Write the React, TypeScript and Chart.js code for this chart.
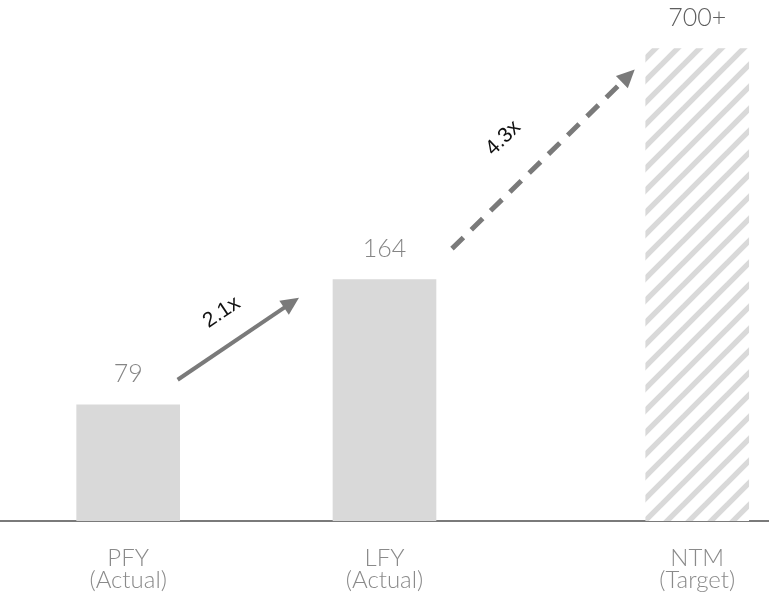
import { useEffect, useRef } from "react";
import { Chart, registerables } from "chart.js";

Chart.register(...registerables);

// ---- data ----
const categories = ["PFY", "LFY", "NTM"];
const subLabels = ["(Actual)", "(Actual)", "(Target)"];
const xPositions = [0, 1, 2.22];
// drawn bar heights (NTM bar is shown truncated, not to scale)
const barHeights = [79, 164, 321];
const valueLabels = ["79", "164", "700+"];
const growthLabels = ["2.1x", "4.3x"];

const LABEL_FONT = '"Lato", "Open Sans", sans-serif';

function makePattern(): CanvasPattern | string {
  const size = 22;
  const c = document.createElement("canvas");
  c.width = size;
  c.height = size;
  const g = c.getContext("2d");
  if (!g) return "#d9d9d9";
  g.fillStyle = "#ffffff";
  g.fillRect(0, 0, size, size);
  g.strokeStyle = "#d9d9d9";
  g.lineWidth = 5.4;
  g.lineCap = "square";
  const seg = (x1: number, y1: number, x2: number, y2: number) => {
    g.beginPath();
    g.moveTo(x1, y1);
    g.lineTo(x2, y2);
    g.stroke();
  };
  seg(-size, 2 * size, 2 * size, -size);
  seg(-size, size, size, -size);
  seg(0, 2 * size, 2 * size, 0);
  const p = g.createPattern(c, "repeat");
  return p || "#d9d9d9";
}

function drawArrow(
  ctx: CanvasRenderingContext2D,
  x1: number,
  y1: number,
  x2: number,
  y2: number,
  width: number,
  dash: number[],
  color: string
) {
  const dx = x2 - x1;
  const dy = y2 - y1;
  const len = Math.hypot(dx, dy);
  const ux = dx / len;
  const uy = dy / len;
  const headLen = 18;
  const headHalf = 8.5;
  const bx = x2 - ux * headLen;
  const by = y2 - uy * headLen;
  ctx.save();
  ctx.strokeStyle = color;
  ctx.fillStyle = color;
  ctx.lineWidth = width;
  ctx.lineCap = "butt";
  ctx.setLineDash(dash);
  ctx.beginPath();
  ctx.moveTo(x1, y1);
  ctx.lineTo(bx + ux * 2, by + uy * 2);
  ctx.stroke();
  ctx.setLineDash([]);
  ctx.beginPath();
  ctx.moveTo(x2, y2);
  ctx.lineTo(bx - uy * headHalf, by + ux * headHalf);
  ctx.lineTo(bx + uy * headHalf, by - ux * headHalf);
  ctx.closePath();
  ctx.fill();
  ctx.restore();
}

const annotationPlugin = {
  id: "annotations",
  afterDatasetsDraw(chart: any) {
    const ctx: CanvasRenderingContext2D = chart.ctx;
    const bars = chart.getDatasetMeta(0).data as any[];
    if (!bars || bars.length < 3) return;
    ctx.save();
    // value labels above bars
    ctx.font = `300 25px ${LABEL_FONT}`;
    ctx.textAlign = "center";
    ctx.textBaseline = "middle";
    bars.forEach((b, i) => {
      ctx.fillStyle = i === 2 ? "#5e5e5e" : "#858585";
      ctx.fillText(valueLabels[i], b.x, b.y - 31);
    });

    const geo = bars.map((b) => ({
      left: b.x - b.width / 2,
      right: b.x + b.width / 2,
      top: b.y,
    }));
    const arrows = [
      {
        x1: geo[0].right - 2,
        y1: geo[0].top - 25,
        x2: geo[1].left - 34,
        y2: geo[1].top + 18,
        w: 4,
        dash: [] as number[],
        label: growthLabels[0],
        off: 31,
        along: 1,
      },
      {
        x1: geo[1].right + 16,
        y1: geo[1].top - 31,
        x2: geo[2].left - 11,
        y2: geo[2].top + 21,
        w: 5,
        dash: [16, 11],
        label: growthLabels[1],
        off: 43,
        along: -14,
      },
    ];
    arrows.forEach((a) => {
      drawArrow(ctx, a.x1, a.y1, a.x2, a.y2, a.w, a.dash, "#7a7a7a");
      const dx = a.x2 - a.x1;
      const dy = a.y2 - a.y1;
      const len = Math.hypot(dx, dy);
      const ux = dx / len;
      const uy = dy / len;
      const nx = uy;
      const ny = -ux;
      const mx = (a.x1 + a.x2) / 2 + nx * a.off + ux * a.along;
      const my = (a.y1 + a.y2) / 2 + ny * a.off + uy * a.along;
      ctx.save();
      ctx.translate(mx, my);
      ctx.rotate(Math.atan2(dy, dx));
      ctx.font = '21px "Liberation Sans", Arial, sans-serif';
      ctx.fillStyle = "#111111";
      ctx.textAlign = "center";
      ctx.textBaseline = "middle";
      ctx.fillText(a.label, 0, 0);
      ctx.restore();
    });
    ctx.restore();
  },
};

export default function App() {
  const canvasRef = useRef<HTMLCanvasElement | null>(null);

  useEffect(() => {
    const canvas = canvasRef.current;
    if (!canvas) return;
    const pattern = makePattern();
    const chart = new Chart(canvas, {
      type: "bar",
      data: {
        datasets: [
          {
            data: xPositions.map((x, i) => ({ x, y: barHeights[i] })),
            backgroundColor: ["#d9d9d9", "#d9d9d9", pattern as any],
            borderWidth: 0,
            barThickness: 103,
          },
        ],
      },
      options: {
        animation: false,
        responsive: false,
        layout: { padding: 0 },
        plugins: {
          legend: { display: false },
          tooltip: { enabled: false },
        },
        scales: {
          x: {
            type: "linear",
            min: -0.5,
            max: 2.5,
            offset: false,
            grid: { display: false, drawTicks: false },
            border: { display: true, color: "#7a7a7a", width: 2 },
            afterBuildTicks: (axis: any) => {
              axis.ticks = xPositions.map((v) => ({ value: v }));
            },
            afterFit: (axis: any) => {
              axis.height = 74;
            },
            ticks: {
              autoSkip: false,
              maxRotation: 0,
              minRotation: 0,
              padding: 26,
              color: "#8a8a8a",
              font: { family: LABEL_FONT, size: 24, weight: "300" as any, lineHeight: 0.92 },
              callback: (_v: any, i: number) => [categories[i], subLabels[i]],
            },
          },
          y: {
            display: false,
            min: 0,
            max: 354,
          },
        },
      },
      plugins: [annotationPlugin],
    });
    return () => chart.destroy();
  }, []);

  return (
    <div style={{ position: "absolute", left: 0, top: 0, width: 769, height: 595, background: "#ffffff" }}>
      <canvas ref={canvasRef} width={769} height={595} style={{ width: 769, height: 595, display: "block" }} />
    </div>
  );
}
